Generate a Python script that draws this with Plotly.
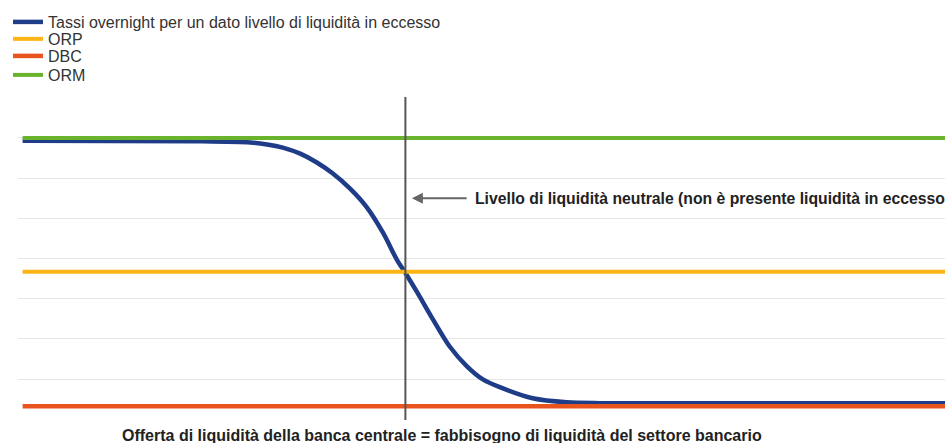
import plotly.graph_objects as go

# liquidity axis (arbitrary units) and overnight rate
liq = [0, 19.2, 24.7, 26.5, 28.2, 30.1, 31.9, 33.6, 35.5, 37.3, 39.1, 40.6, 41.5, 42.8,
       44.5, 46.3, 48.2, 49.9, 51.8, 55.3, 59.0, 62.6, 100]
overnight = [6.93, 6.92, 6.89, 6.84, 6.76, 6.61, 6.39, 6.12, 5.74, 5.28, 4.63, 3.96, 3.64, 3.15,
             2.48, 1.81, 1.31, 0.99, 0.79, 0.52, 0.42, 0.40, 0.40]

rate_x = [0, 100]
orp = [3.67, 3.67]
dbc = [0.32, 0.32]
orm = [7.0, 7.0]

neutral_x = 41.5
arrow_y = 5.5
arrow_head, arrow_tail, label_x = 42.2, 48.3, 48.8

legend_name = "Tassi overnight per un dato livello di liquidità in eccesso"
neutral_text = "Livello di liquidità neutrale (non è presente liquidità in eccesso)"
xtitle = "Offerta di liquidità della banca centrale = fabbisogno di liquidità del settore bancario"

font = "Arial, Liberation Sans, sans-serif"

fig = go.Figure()
# one legend box per entry so the rows can sit as tight as in the original
fig.add_trace(go.Scatter(x=liq, y=overnight, mode='lines', name=legend_name,
                         line=dict(color='#1F3C88', width=4.5, shape='spline', smoothing=0.8),
                         legend='legend'))
fig.add_trace(go.Scatter(x=rate_x, y=orp, mode='lines', name='ORP',
                         line=dict(color='#FDB515', width=4), legend='legend2'))
fig.add_trace(go.Scatter(x=rate_x, y=dbc, mode='lines', name='DBC',
                         line=dict(color='#E9541E', width=4.5), legend='legend3'))
fig.add_trace(go.Scatter(x=rate_x, y=orm, mode='lines', name='ORM',
                         line=dict(color='#6AB42D', width=4), legend='legend4'))

fig.add_shape(type='line', x0=neutral_x, x1=neutral_x, y0=-0.07, y1=8.02,
              xref='x', yref='y', layer='above',
              line=dict(color='#555555', width=2))

fig.add_annotation(x=arrow_head, y=arrow_y, ax=arrow_tail, ay=arrow_y,
                   xref='x', yref='y', axref='x', ayref='y', text='',
                   showarrow=True, arrowhead=2, arrowsize=1.1, arrowwidth=2,
                   arrowcolor='#666666')
fig.add_annotation(x=label_x, y=arrow_y, xref='x', yref='y', text='<b>' + neutral_text + '</b>',
                   showarrow=False, xanchor='left', yanchor='middle',
                   font=dict(family=font, size=15.75, color='#222222'))
fig.add_annotation(x=0.457, y=-0.047, xref='paper', yref='paper', text='<b>' + xtitle + '</b>',
                   showarrow=False, xanchor='center', yanchor='middle',
                   font=dict(family=font, size=16, color='#222222'))

leg = dict(x=-0.0108, xanchor='left', yanchor='middle', bgcolor='rgba(0,0,0,0)',
           font=dict(family=font, size=16, color='#333333'))

fig.update_layout(
    width=945, height=443,
    margin=dict(l=18, r=0, t=97, b=23, autoexpand=False),
    paper_bgcolor='white', plot_bgcolor='white',
    font=dict(family=font, size=16, color='#333333'),
    showlegend=True,
    legend=dict(leg, y=1.2322),
    legend2=dict(leg, y=1.1796),
    legend3=dict(leg, y=1.1269),
    legend4=dict(leg, y=1.0681),
    xaxis=dict(range=[-0.5, 100], showgrid=False, zeroline=False,
               showticklabels=False, ticks='', showline=False),
    yaxis=dict(range=[-0.02, 8.02], dtick=1, showgrid=True, gridcolor='#E6E6E6', gridwidth=1,
               zeroline=False, showticklabels=False, ticks='', showline=False),
)

# drop the browser's default 8px page margin so the figure fills the window
fig.write_html("out.html", config={'displayModeBar': False},
               post_script="document.body.style.margin='0';document.body.style.overflow='hidden';")
